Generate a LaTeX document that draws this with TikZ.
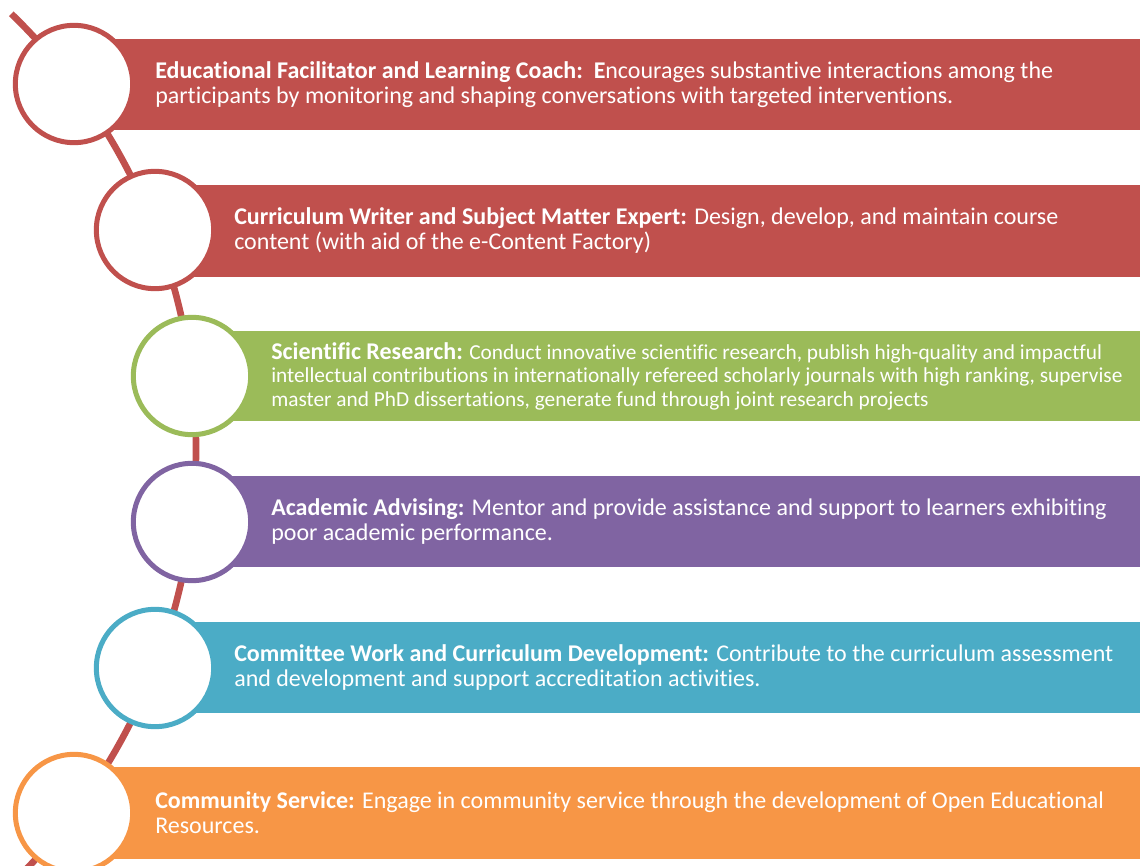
\documentclass[tikz,border=0pt]{standalone}
\usepackage{fontspec}
\setmainfont{Carlito}[Ligatures=NoCommon]
\definecolor{rolered}{HTML}{C0504D}
\definecolor{rolegreen}{HTML}{9BBB59}
\definecolor{rolepurple}{HTML}{8064A2}
\definecolor{roleblue}{HTML}{4BACC6}
\definecolor{roleorange}{HTML}{F79646}

\begin{document}
\begin{tikzpicture}[x=0.75pt, y=-0.75pt,
        ring/.style={circle, draw, fill=white, line width=3.75pt, minimum size=88pt, inner sep=0pt},
        roletext/.style={anchor=west, align=left, text=white, inner sep=0pt, font=\fontsize{18}{18.75}\selectfont}]
        \useasboundingbox (0,0) rectangle (1143,866);
        \coordinate (hub) at (-409,449);
        \draw[rolered, line width=5pt](hub) ++(-46:605) arc[start angle=-46, end angle=48, radius=605];
        \fill[rolered](74,39) rectangle (1140,130);
        \node[roletext] (t1) at (155,84.5){\textbf{Educational Facilitator and Learning Coach:\ \ E}ncourages substantive interactions among the\\participants by monitoring and shaping conversations with targeted interventions.};
        \node[ring, draw=rolered] (c1) at (74,84){};
        \fill[rolered](155,185) rectangle (1140,277);
        \node[roletext] (t2) at (234,231){\textbf{Curriculum Writer and Subject Matter Expert:} Design, develop, and maintain course\\content (with aid of the e-Content Factory)};
        \node[ring, draw=rolered] (c2) at (155,230){};
        \fill[rolegreen](192,331) rectangle (1140,421);
        \node[roletext, font=\fontsize{16}{17.6}\selectfont] (t3) at (271,376){\textbf{\fontsize{18}{17.6}\selectfont Scientific Research:} Conduct innovative scientific research, publish high-quality and impactful\\intellectual contributions in internationally refereed scholarly journals with high ranking, supervise\\master and PhD dissertations, generate fund through joint research projects};
        \node[ring, draw=rolegreen] (c3) at (192,376){};
        \fill[rolepurple](192,476) rectangle (1140,567);
        \node[roletext] (t4) at (271,521.5){\textbf{Academic Advising:} Mentor and provide assistance and support to learners exhibiting\\poor academic performance.};
        \node[ring, draw=rolepurple] (c4) at (192,522){};
        \fill[roleblue](155,622) rectangle (1140,713);
        \node[roletext] (t5) at (234,667.5){\textbf{Committee Work and Curriculum Development:} Contribute to the curriculum assessment\\and development and support accreditation activities.};
        \node[ring, draw=roleblue] (c5) at (155,668){};
        \fill[roleorange](74,767) rectangle (1140,859);
        \node[roletext] (t6) at (155,813){\textbf{Community Service:} Engage in community service through the development of Open Educational\\Resources.};
        \node[ring, draw=roleorange] (c6) at (74,813){};
    \end{tikzpicture}
\end{document}
